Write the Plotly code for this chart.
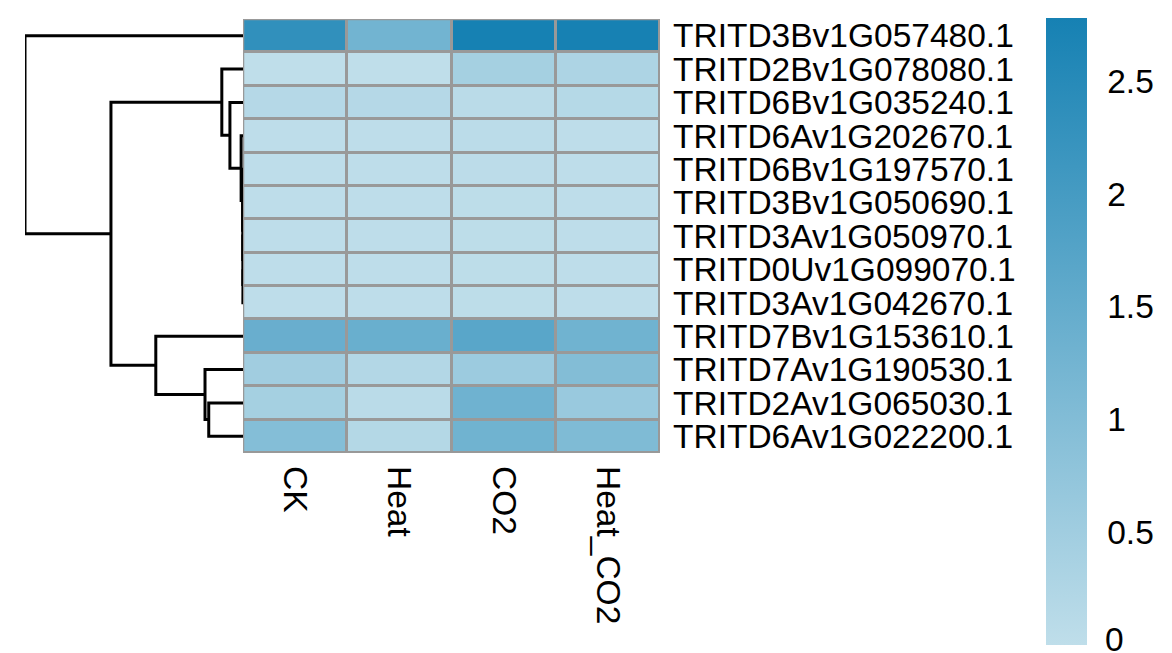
import plotly.graph_objects as go

genes = ["TRITD3Bv1G057480.1", "TRITD2Bv1G078080.1", "TRITD6Bv1G035240.1",
         "TRITD6Av1G202670.1", "TRITD6Bv1G197570.1", "TRITD3Bv1G050690.1",
         "TRITD3Av1G050970.1", "TRITD0Uv1G099070.1", "TRITD3Av1G042670.1",
         "TRITD7Bv1G153610.1", "TRITD7Av1G190530.1", "TRITD2Av1G065030.1",
         "TRITD6Av1G022200.1"]
conditions = ["CK", "Heat", "CO2", "Heat_CO2"]

ck       = [2.34, 0.00, 0.17, 0.02, 0.02, 0.02, 0.02, 0.02, 0.02, 1.42, 0.50, 0.43, 0.97]
heat     = [1.27, 0.00, 0.17, 0.02, 0.02, 0.02, 0.02, 0.02, 0.02, 1.41, 0.20, 0.08, 0.18]
co2      = [2.79, 0.43, 0.08, 0.06, 0.05, 0.04, 0.04, 0.04, 0.04, 1.67, 0.58, 1.32, 1.30]
heat_co2 = [2.77, 0.30, 0.16, 0.02, 0.02, 0.02, 0.02, 0.02, 0.02, 1.30, 0.99, 0.63, 1.06]

# hclust-style merge table (negative = leaf, 1-based; positive = earlier merge, 1-based)
merge_left   = [-8, -7, -6, -5, -4, -3, -2, -12, -11, -10, 7, -1]
merge_right  = [-9,  1,  2,  3,  4,  5,  6, -13,   8,   9, 10, 11]
merge_height = [0.002, 0.003, 0.004, 0.006, 0.03, 0.21, 0.34, 0.55, 0.61, 1.40, 2.12, 3.50]

colorbar_ticks = [0, 0.5, 1, 1.5, 2, 2.5]
ZMIN, ZMAX = 0.0, 2.78

FONT = "Liberation Sans, Arial, sans-serif"
FS = 33.5
OFF = 8            # page body margin
W, H = 1172 - OFF, 653 - OFF

def px_x(v):
    return (v - OFF) / W

def px_y(v):
    return 1 - (v - OFF) / H

z = [[ck[i], heat[i], co2[i], heat_co2[i]] for i in range(len(genes))]

CB_TOP, CB_BOT = 18, 645

fig = go.Figure()
fig.add_trace(go.Heatmap(
    z=z, x=list(range(len(conditions))), y=list(range(len(genes))),
    zmin=ZMIN, zmax=ZMAX,
    colorscale=[[0, "#BFDEEA"], [1, "#1681B3"]],
    xgap=3, ygap=3,
    xaxis="x", yaxis="y",
    colorbar=dict(
        x=px_x(1046), xanchor="left", thickness=41, thicknessmode="pixels",
        y=px_y((CB_TOP + CB_BOT) / 2), yanchor="middle",
        len=(CB_BOT - CB_TOP) / H, lenmode="fraction",
        xpad=0, ypad=0, outlinewidth=0,
        tickvals=colorbar_ticks, ticktext=[f"{v:g}" for v in colorbar_ticks],
        tickmode="array",
        ticks="outside", ticklen=14, tickcolor="rgba(0,0,0,0)",
        tickfont=dict(family=FONT, size=FS, color="black"),
    ),
    hoverinfo="skip",
))

# the lowest colorbar label sits on the bar's end, where plotly drops it;
# nudged up a little so it stays inside the page
fig.add_annotation(
    text=f"{colorbar_ticks[0]:g}", xref="paper", yref="paper",
    x=px_x(1103), xanchor="left",
    y=px_y(CB_BOT - 6 - (colorbar_ticks[0] - ZMIN) / (ZMAX - ZMIN) * (CB_BOT - CB_TOP)),
    yanchor="middle", showarrow=False,
    font=dict(family=FONT, size=FS, color="black"),
)

# dendrogram
pos = {}
def node_y(ref):
    if ref < 0:
        return float(-ref - 1), 0.0
    return pos[ref]

xs, ys = [], []
for k, (a, b, h) in enumerate(zip(merge_left, merge_right, merge_height), start=1):
    ya, ha = node_y(a)
    yb, hb = node_y(b)
    xs += [ha, h, h, hb, None]
    ys += [ya, ya, yb, yb, None]
    pos[k] = ((ya + yb) / 2, h)

fig.add_trace(go.Scatter(x=xs, y=ys, mode="lines",
                         line=dict(color="black", width=3),
                         xaxis="x2", yaxis="y2", hoverinfo="skip", showlegend=False))

hm_x0, hm_x1 = px_x(243), px_x(660)
hm_y1, hm_y0 = px_y(19), px_y(453)

# grey grid background and border behind/around the cells
fig.add_shape(type="rect", xref="x", yref="y", x0=-0.5, x1=3.5, y0=-0.5, y1=12.5,
              line=dict(width=0), fillcolor="#999999", layer="below")
fig.add_shape(type="rect", xref="x", yref="y", x0=-0.5, x1=3.5, y0=-0.5, y1=12.5,
              line=dict(color="#999999", width=2.5), layer="above")

fig.update_layout(
    width=W, height=H,
    margin=dict(l=0, r=0, t=0, b=0),
    paper_bgcolor="white", plot_bgcolor="white",
    showlegend=False,
    font=dict(family=FONT, size=FS, color="black"),
    xaxis=dict(domain=[hm_x0, hm_x1], range=[-0.5, 3.5],
               tickvals=list(range(len(conditions))), ticktext=conditions,
               tickangle=90, showgrid=False, zeroline=False, showline=False,
               ticks="", ticklabelstandoff=12, automargin=False,
               tickfont=dict(family=FONT, size=FS, color="black")),
    yaxis=dict(domain=[hm_y0, hm_y1], range=[12.5, -0.5],
               tickvals=list(range(len(genes))), ticktext=genes, side="right",
               showgrid=False, zeroline=False, showline=False, ticks="",
               ticklabelstandoff=12, automargin=False,
               tickfont=dict(family=FONT, size=FS, color="black")),
    xaxis2=dict(domain=[px_x(25), hm_x0], range=[3.5, 0], anchor="y2",
                visible=False, showgrid=False, zeroline=False),
    yaxis2=dict(domain=[hm_y0, hm_y1], range=[12.5, -0.5], anchor="x2",
                visible=False, showgrid=False, zeroline=False),
)

fig.write_html("out.html")
